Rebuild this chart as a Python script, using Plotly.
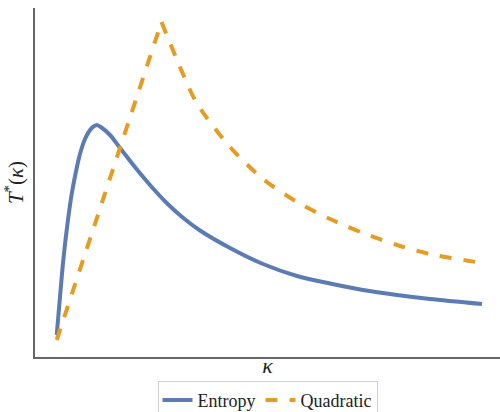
import plotly.graph_objects as go

# values (x: kappa in plot units, y: T*(kappa) in plot units)
entropy_kappa = [21.7, 25, 28.3, 32.7, 36.7, 41.7, 45, 50, 56.7, 61.7, 65, 75, 85, 98.3, 115, 131.7,
                 148.3, 165, 195, 228, 262, 295, 328, 362, 395, 447]
entropy_T = [22, 60, 97, 135, 163, 189, 203, 218, 229, 232, 230.5, 222, 209, 192, 172, 154,
             139, 126.5, 109, 93, 81, 73.5, 67, 62, 58, 53]

quad_rise_kappa = [21.7, 126.5]
quad_rise_T = [17, 335]
quad_fall_kappa = [126.5, 145, 161.7, 195, 228, 262, 295, 328, 362, 395, 447]
quad_fall_T = [335, 290, 254, 210, 178, 155, 138, 124, 112, 103, 94]

blue = "#5b7cb3"
orange = "#e59c24"

fig = go.Figure()
fig.add_trace(go.Scatter(x=entropy_kappa, y=entropy_T, mode="lines", name="Entropy",
                         line=dict(color=blue, width=4, shape="spline", smoothing=0.8)))
fig.add_trace(go.Scatter(x=quad_rise_kappa, y=quad_rise_T, mode="lines", name="Quadratic",
                         legendgroup="q",
                         line=dict(color=orange, width=4, dash="dash")))
fig.add_trace(go.Scatter(x=quad_fall_kappa, y=quad_fall_T, mode="lines", name="Quadratic",
                         legendgroup="q", showlegend=False,
                         line=dict(color=orange, width=4, dash="dash", shape="spline", smoothing=0.8)))

fig.update_layout(
    width=500, height=412,
    margin=dict(l=35, r=0, t=8, b=55, autoexpand=False),
    paper_bgcolor="white", plot_bgcolor="white",
    font=dict(family="Liberation Serif, DejaVu Serif, serif", color="#222"),
    xaxis=dict(range=[0, 465], showticklabels=False, ticks="", showgrid=False, zeroline=False,
               showline=True, linecolor="#666", linewidth=1.5,
               title=dict(text="<i>κ</i>", font=dict(size=22), standoff=0)),
    yaxis=dict(range=[0, 349], showticklabels=False, ticks="", showgrid=False, zeroline=False,
               showline=True, linecolor="#666", linewidth=1.5,
               title=dict(text="<i>T</i><sup>*</sup>(<i>κ</i>)", font=dict(size=21), standoff=4)),
    legend=dict(orientation="h", x=0.5, xanchor="center", y=-0.068, yanchor="top",
                bordercolor="#d0d0d0", borderwidth=1, font=dict(size=18),
                tracegroupgap=0),
    showlegend=True,
)
fig.write_html("out.html")
